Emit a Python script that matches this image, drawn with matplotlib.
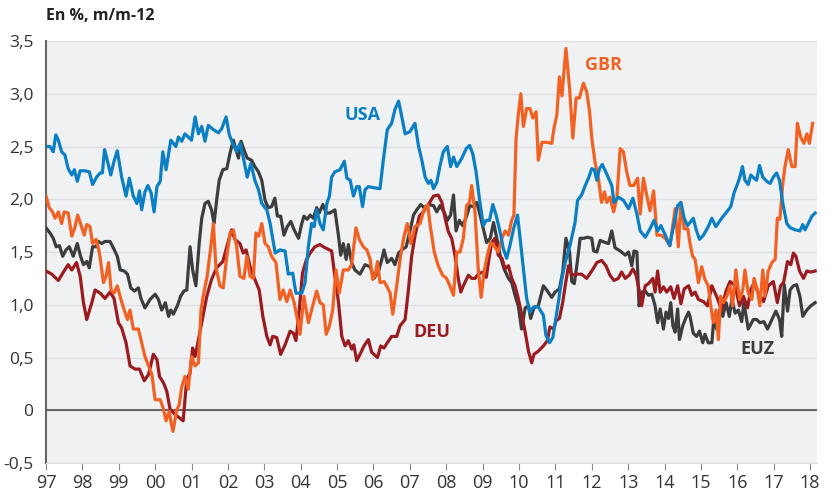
import numpy as np
import matplotlib.pyplot as plt

# years counted from 1997, values in % y/y
usa_t = [0, 0.11, 0.2, 0.27, 0.34, 0.43, 0.52, 0.61, 0.71, 0.78, 0.86, 0.94, 1.07, 1.19, 1.28, 1.39,
         1.49, 1.55, 1.61, 1.67, 1.78, 1.87, 1.96, 2.08, 2.2, 2.29, 2.4, 2.5, 2.57, 2.63, 2.72, 2.8,
         2.89, 2.97, 3.05, 3.14, 3.21, 3.30, 3.43, 3.50, 3.57, 3.64, 3.73, 3.82, 3.91, 4.0, 4.10, 4.19,
         4.28, 4.37, 4.46, 4.60, 4.74, 4.83, 4.95, 5.04, 5.13, 5.24, 5.33, 5.42, 5.53, 5.63, 5.74, 5.84,
         5.93, 6.07, 6.16, 6.30, 6.43, 6.57, 6.66, 6.78, 6.87, 7.03, 7.12, 7.21, 7.30, 7.37, 7.44, 7.53,
         7.62, 7.72, 7.79, 7.85, 7.94, 8.08, 8.20, 8.27, 8.36, 8.45, 8.54, 8.61, 8.70, 8.77, 8.86, 9.00,
         9.18, 9.27, 9.38, 9.50, 9.59, 9.69, 9.78, 9.87, 10.0, 10.14, 10.24, 10.33, 10.42, 10.51, 10.58,
         10.65, 10.74, 10.83, 10.92, 11.03, 11.12, 11.20, 11.29, 11.43, 11.55, 11.64, 11.73, 11.82, 11.91,
         12.02, 12.10, 12.19, 12.28, 12.37, 12.48, 12.57, 12.66, 12.75, 12.85, 12.96, 13.03, 13.12, 13.21,
         13.30, 13.40, 13.53, 13.67, 13.74, 13.84, 13.93, 14.04, 14.18, 14.27, 14.40, 14.54, 14.61, 14.72,
         14.82, 14.91, 15.0, 15.07, 15.14, 15.21, 15.29, 15.41, 15.55, 15.61, 15.73, 15.87, 16.01, 16.13,
         16.24, 16.33, 16.47, 16.60, 16.71, 16.81, 16.90, 17.02, 17.14, 17.25, 17.36, 17.45, 17.54, 17.63,
         17.79, 17.87, 17.96, 18.07, 18.20, 18.30, 18.41, 18.57, 18.71, 18.82, 18.91, 19.0, 19.07, 19.14,
         19.21, 19.30, 19.37, 19.46, 19.53, 19.61, 19.70, 19.81, 19.90, 19.99, 20.08, 20.16, 20.25, 20.36,
         20.45, 20.59, 20.72, 20.80, 20.86, 20.95, 21.05, 21.14]
usa_v = [2.50, 2.50, 2.45, 2.61, 2.56, 2.45, 2.42, 2.29, 2.23, 2.28, 2.17, 2.27, 2.27, 2.26, 2.14, 2.21,
         2.25, 2.25, 2.47, 2.39, 2.23, 2.36, 2.46, 2.21, 2.03, 2.20, 2.03, 1.96, 2.08, 1.90, 2.07, 2.13,
         2.06, 1.88, 2.12, 2.17, 2.45, 2.28, 2.56, 2.53, 2.50, 2.59, 2.55, 2.62, 2.59, 2.56, 2.78, 2.62,
         2.69, 2.55, 2.70, 2.66, 2.63, 2.67, 2.78, 2.61, 2.53, 2.45, 2.53, 2.40, 2.21, 2.34, 2.18, 2.09,
         1.96, 1.90, 1.77, 1.49, 1.52, 1.51, 1.29, 1.30, 1.11, 1.11, 1.21, 1.55, 1.77, 1.74, 1.90, 1.77,
         1.71, 1.96, 2.03, 2.21, 2.26, 2.28, 2.36, 2.20, 2.18, 2.03, 2.12, 2.12, 1.93, 2.09, 2.12, 2.11,
         2.10, 2.37, 2.66, 2.72, 2.85, 2.93, 2.78, 2.62, 2.64, 2.72, 2.50, 2.37, 2.21, 2.15, 2.18,
         2.10, 2.16, 2.32, 2.45, 2.50, 2.31, 2.40, 2.31, 2.39, 2.48, 2.51, 2.43, 2.26, 2.01,
         1.75, 1.80, 1.80, 1.95, 1.85, 1.69, 1.53, 1.44, 1.56, 1.72, 1.85, 1.63, 1.34, 1.06,
         0.93, 0.98, 0.98, 0.90, 0.71, 0.64, 0.69, 0.93, 1.25, 1.40, 1.56, 1.78, 1.99, 2.04,
         2.13, 2.20, 2.29, 2.28, 2.18, 2.29, 2.33, 2.24, 2.13, 1.97, 2.02, 1.99, 1.91, 2.01,
         1.86, 1.70, 1.64, 1.72, 1.80, 1.70, 1.75, 1.66, 1.56, 1.75, 1.94, 1.97, 1.82, 1.75,
         1.82, 1.71, 1.62, 1.66, 1.74, 1.82, 1.74, 1.82, 1.88, 1.93, 2.06, 2.14, 2.21, 2.31,
         2.18, 2.14, 2.23, 2.20, 2.18, 2.32, 2.21, 2.17, 2.15, 2.21, 2.25, 2.18, 1.96, 1.77,
         1.73, 1.71, 1.70, 1.76, 1.71, 1.77, 1.84, 1.87]

gbr_t = [0, 0.09, 0.18, 0.25, 0.34, 0.43, 0.50, 0.61, 0.71, 0.80, 0.87, 0.95, 1.05, 1.12, 1.21, 1.28,
         1.38, 1.47, 1.58, 1.65, 1.72, 1.79, 1.87, 1.96, 2.06, 2.15, 2.24, 2.31, 2.40, 2.54, 2.63, 2.72,
         2.82, 2.91, 3.0, 3.14, 3.23, 3.30, 3.39, 3.44, 3.49, 3.59, 3.66, 3.73, 3.82, 3.91, 4.0, 4.10,
         4.19, 4.26, 4.32, 4.43, 4.53, 4.60, 4.67, 4.78, 4.87, 4.97, 5.06, 5.15, 5.24, 5.33, 5.44, 5.52,
         5.61, 5.70, 5.77, 5.85, 5.93, 6.02, 6.11, 6.20, 6.32, 6.43, 6.52, 6.62, 6.71, 6.82, 6.91, 6.98,
         7.09, 7.21, 7.33, 7.44, 7.53, 7.62, 7.70, 7.79, 7.88, 7.97, 8.06, 8.17, 8.31, 8.40, 8.52, 8.61,
         8.72, 8.82, 8.91, 8.98, 9.04, 9.11, 9.18, 9.29, 9.36, 9.46, 9.53, 9.64, 9.73, 9.84, 9.93, 10.03,
         10.14, 10.28, 10.39, 10.49, 10.56, 10.67, 10.78, 10.90, 11.01, 11.10, 11.2, 11.29, 11.38, 11.47,
         11.56, 11.64, 11.70, 11.79, 11.88, 11.96, 12.04, 12.13, 12.22, 12.31, 12.43, 12.53, 12.62, 12.71,
         12.80, 12.86, 12.92, 12.98, 13.05, 13.12, 13.21, 13.30, 13.38, 13.47, 13.53, 13.63, 13.76, 13.90,
         13.96, 14.04, 14.11, 14.18, 14.29, 14.39, 14.48, 14.57, 14.66, 14.77, 14.86, 14.94, 15.0, 15.09,
         15.18, 15.27, 15.35, 15.41, 15.50, 15.60, 15.69, 15.78, 15.87, 15.96, 16.05, 16.15, 16.26, 16.33,
         16.42, 16.51, 16.60, 16.70, 16.79, 16.90, 17.02, 17.15, 17.29, 17.38, 17.45, 17.54, 17.64, 17.70,
         17.77, 17.84, 17.93, 18.02, 18.11, 18.20, 18.27, 18.34, 18.41, 18.48, 18.54, 18.62, 18.71, 18.80,
         18.87, 18.96, 19.06, 19.15, 19.21, 19.30, 19.40, 19.46, 19.55, 19.62, 19.70, 19.76, 19.85, 19.95,
         20.04, 20.10, 20.17, 20.25, 20.31, 20.40, 20.50, 20.59, 20.65, 20.74, 20.83, 20.91, 20.98, 21.07]
gbr_v = [2.03, 1.92, 1.88, 1.82, 1.88, 1.77, 1.88, 1.87, 1.65, 1.74, 1.85, 1.77, 1.66, 1.76, 1.74, 1.58,
         1.62, 1.49, 1.21, 1.27, 1.40, 1.14, 1.11, 1.18, 1.05, 0.95, 0.86, 0.95, 0.77, 0.77, 0.64, 0.51,
         0.42, 0.34, 0.10, 0.10, 0.01, -0.10, -0.01, -0.12, -0.20, 0.00, 0.05, 0.22, 0.32, 0.20, 0.51, 0.42,
         0.45, 0.95, 1.08, 1.27, 1.55, 1.77, 1.36, 1.18, 1.16, 1.46, 1.68, 1.71, 1.55, 1.27, 1.25, 1.46,
         1.27, 1.25, 1.68, 1.65, 1.77, 1.58, 1.55, 1.46, 1.40, 1.05, 1.14, 1.03, 1.14, 1.02, 0.86, 0.72,
         1.08, 0.83, 0.99, 1.13, 1.02, 1.00, 0.72, 0.80, 0.95, 1.33, 1.11, 1.33, 1.33, 1.38, 1.73, 1.62,
         1.55, 1.52, 1.43, 1.24, 1.27, 1.41, 1.21, 1.22, 1.18, 1.11, 0.91, 1.18, 1.43, 1.65, 1.77, 1.58,
         1.74, 1.77, 1.90, 1.95, 1.75, 1.50, 1.37, 1.28, 1.25, 1.18, 1.09, 1.50, 1.50, 1.63,
         1.94, 1.97, 2.13, 1.88, 1.34, 1.07, 1.31, 1.47, 1.59, 1.56, 1.50, 1.63, 1.70, 1.66,
         1.80, 1.85, 2.58, 2.80, 3.00, 2.69, 2.86, 2.86, 2.77, 2.83, 2.37, 2.54, 2.54, 2.53,
         2.67, 2.80, 3.16, 2.98, 3.43, 3.05, 2.58, 2.96, 2.96, 3.10, 3.02, 2.83, 2.58, 2.35,
         2.20, 1.97, 2.07, 1.97, 2.02, 1.88, 2.01, 2.48, 2.45, 2.26, 2.13, 2.13, 2.20, 1.86,
         2.20, 2.04, 1.89, 2.08, 1.66, 1.66, 1.63, 1.56, 1.91, 1.55, 1.97, 1.72, 1.72, 1.58,
         1.46, 1.43, 1.21, 1.36, 1.24, 1.18, 0.99, 0.83, 0.95, 0.67, 1.08, 1.02, 1.08, 1.18,
         0.99, 1.33, 1.05, 1.14, 1.33, 1.11, 1.05, 1.25, 1.14, 0.99, 1.33, 1.08, 1.32, 1.40,
         1.43, 1.82, 1.81, 2.15, 2.31, 2.47, 2.31, 2.31, 2.72, 2.59, 2.53, 2.62, 2.53, 2.72]

deu_t = [0, 0.16, 0.34, 0.48, 0.61, 0.71, 0.84, 0.94, 1.03, 1.12, 1.26, 1.35, 1.49, 1.62, 1.76, 1.87,
         1.99, 2.08, 2.20, 2.31, 2.45, 2.57, 2.70, 2.82, 2.95, 3.05, 3.12, 3.23, 3.32, 3.41, 3.55, 3.66,
         3.77, 3.87, 3.96, 4.03, 4.10, 4.28, 4.42, 4.55, 4.69, 4.86, 4.97, 5.10, 5.19, 5.33, 5.42, 5.50,
         5.61, 5.74, 5.86, 5.96, 6.07, 6.16, 6.23, 6.34, 6.45, 6.57, 6.71, 6.80, 6.87, 6.96, 7.05, 7.15,
         7.26, 7.39, 7.53, 7.67, 7.85, 7.94, 8.04, 8.13, 8.22, 8.31, 8.40, 8.46, 8.54, 8.63, 8.74, 8.86,
         8.95, 9.11, 9.20, 9.29, 9.38, 9.50, 9.64, 9.73, 9.87, 9.96, 10.05, 10.14, 10.26, 10.37, 10.51,
         10.65, 10.78, 10.88, 10.97, 11.06, 11.15, 11.24, 11.33, 11.40, 11.47, 11.61, 11.70, 11.79, 11.88,
         12.0, 12.10, 12.19, 12.25, 12.34, 12.43, 12.53, 12.62, 12.71, 12.80, 12.89, 12.98, 13.08, 13.17,
         13.26, 13.35, 13.41, 13.53, 13.67, 13.78, 13.85, 13.95, 14.02, 14.11, 14.20, 14.27, 14.36, 14.45,
         14.59, 14.72, 14.86, 15.0, 15.14, 15.27, 15.39, 15.50, 15.61, 15.73, 15.82, 15.92, 16.03, 16.13,
         16.22, 16.31, 16.37, 16.47, 16.56, 16.68, 16.74, 16.81, 16.88, 16.97, 17.06, 17.17, 17.26, 17.36,
         17.45, 17.54, 17.66, 17.75, 17.84, 17.93, 18.07, 18.18, 18.30, 18.43, 18.57, 18.69, 18.80, 18.94,
         19.06, 19.17, 19.28, 19.37, 19.46, 19.58, 19.72, 19.85, 19.99, 20.10, 20.19, 20.27, 20.38, 20.47,
         20.54, 20.61, 20.71, 20.82, 20.91, 21.02, 21.14]
deu_v = [1.32, 1.29, 1.23, 1.31, 1.38, 1.33, 1.40, 1.27, 1.02, 0.86, 1.02, 1.14, 1.11, 1.06, 1.12, 1.06,
         0.83, 0.78, 0.64, 0.42, 0.39, 0.39, 0.28, 0.34, 0.53, 0.48, 0.32, 0.26, 0.18, 0.01, -0.04, -0.07,
         -0.10, 0.30, 0.35, 0.59, 0.51, 0.83, 1.08, 1.24, 1.35, 1.41, 1.55, 1.71, 1.62, 1.58, 1.49, 1.52,
         1.36, 1.24, 1.14, 0.89, 0.70, 0.62, 0.70, 0.69, 0.53, 0.62, 0.75, 0.73, 0.66, 0.95, 1.30, 1.42,
         1.49, 1.55, 1.57, 1.54, 1.51, 1.27, 1.02, 0.70, 0.61, 0.66, 0.58, 0.62, 0.47, 0.53, 0.61, 0.67,
         0.55, 0.50, 0.61, 0.59, 0.64, 0.70, 0.70, 0.80, 0.86, 1.14, 1.46, 1.65, 1.84, 1.88, 1.95,
         2.03, 2.04, 1.97, 1.82, 1.69, 1.63, 1.47, 1.25, 1.12, 1.18, 1.28, 1.25, 1.25, 1.29,
         1.31, 1.26, 1.47, 1.59, 1.63, 1.47, 1.44, 1.34, 1.37, 1.25, 1.18, 1.06, 0.90, 0.74,
         0.56, 0.45, 0.53, 0.56, 0.61, 0.66, 0.79, 0.77, 0.85, 0.87, 1.02, 1.18, 1.37, 1.28,
         1.29, 1.29, 1.25, 1.32, 1.40, 1.42, 1.37, 1.28, 1.23, 1.25, 1.31, 1.25, 1.28, 1.34,
         1.28, 1.12, 0.99, 1.18, 1.20, 1.25, 1.12, 1.32, 1.12, 1.17, 1.12, 1.17, 1.06, 1.18,
         1.01, 1.15, 1.18, 1.09, 1.12, 1.05, 1.03, 0.99, 1.18, 1.08, 0.95, 1.13, 1.22, 1.18,
         0.99, 1.08, 0.97, 1.14, 1.21, 1.11, 1.03, 1.18, 1.22, 1.02, 1.18, 1.21, 1.41, 1.38,
         1.49, 1.46, 1.32, 1.25, 1.32, 1.31, 1.32]

euz_t = [0, 0.11, 0.20, 0.28, 0.37, 0.46, 0.55, 0.64, 0.75, 0.86, 0.95, 1.03, 1.12, 1.19, 1.28, 1.38,
         1.44, 1.53, 1.62, 1.76, 1.85, 1.96, 2.04, 2.15, 2.24, 2.33, 2.43, 2.54, 2.61, 2.72, 2.86, 3.0,
         3.09, 3.18, 3.28, 3.37, 3.43, 3.50, 3.61, 3.70, 3.79, 3.87, 3.91, 3.96, 4.03, 4.12, 4.21, 4.28,
         4.37, 4.46, 4.55, 4.62, 4.69, 4.76, 4.86, 4.97, 5.06, 5.15, 5.22, 5.29, 5.36, 5.44, 5.53, 5.65,
         5.74, 5.84, 5.93, 6.02, 6.11, 6.20, 6.29, 6.36, 6.45, 6.54, 6.63, 6.73, 6.82, 6.94, 7.03, 7.09,
         7.18, 7.26, 7.35, 7.44, 7.51, 7.61, 7.70, 7.81, 7.94, 8.04, 8.10, 8.17, 8.25, 8.31, 8.40, 8.49,
         8.63, 8.77, 8.91, 9.02, 9.14, 9.23, 9.29, 9.38, 9.50, 9.59, 9.69, 9.78, 9.90, 10.01, 10.10, 10.19,
         10.30, 10.39, 10.51, 10.65, 10.74, 10.83, 10.94, 11.03, 11.12, 11.2, 11.27, 11.36, 11.45, 11.54,
         11.65, 11.75, 11.84, 11.93, 12.02, 12.11, 12.21, 12.30, 12.39, 12.48, 12.59, 12.71, 12.80, 12.89,
         12.98, 13.07, 13.17, 13.26, 13.32, 13.41, 13.53, 13.67, 13.78, 13.90, 13.99, 14.11, 14.20, 14.29,
         14.39, 14.45, 14.52, 14.60, 14.68, 14.78, 14.88, 15.0, 15.05, 15.14, 15.23, 15.37, 15.46, 15.55,
         15.64, 15.78, 15.92, 16.01, 16.10, 16.16, 16.24, 16.30, 16.37, 16.47, 16.56, 16.65, 16.74, 16.81,
         16.88, 16.97, 17.04, 17.11, 17.17, 17.23, 17.29, 17.36, 17.41, 17.50, 17.59, 17.66, 17.70, 17.79,
         17.88, 17.96, 18.05, 18.11, 18.20, 18.30, 18.36, 18.43, 18.51, 18.60, 18.69, 18.78, 18.85, 18.94,
         19.03, 19.12, 19.18, 19.30, 19.44, 19.53, 19.62, 19.73, 19.83, 19.95, 20.06, 20.16, 20.22, 20.29,
         20.38, 20.45, 20.54, 20.63, 20.72, 20.80, 20.91, 21.02, 21.14]
euz_v = [1.73, 1.68, 1.63, 1.55, 1.56, 1.46, 1.52, 1.55, 1.46, 1.58, 1.46, 1.38, 1.41, 1.35, 1.55, 1.55,
         1.60, 1.58, 1.60, 1.60, 1.54, 1.46, 1.33, 1.32, 1.29, 1.16, 1.13, 1.16, 1.06, 0.97, 1.05, 1.10,
         1.05, 0.95, 1.02, 0.89, 0.95, 0.91, 0.99, 1.08, 1.13, 1.14, 1.33, 1.55, 1.33, 1.18, 1.58, 1.82,
         1.96, 1.98, 1.90, 1.77, 1.99, 2.18, 2.28, 2.29, 2.44, 2.56, 2.47, 2.39, 2.55, 2.47, 2.39, 2.37,
         2.31, 2.26, 2.18, 1.99, 1.92, 1.93, 2.01, 1.84, 1.84, 1.66, 1.74, 1.79, 1.71, 1.63, 1.77, 1.84,
         1.81, 1.85, 1.82, 1.92, 1.87, 1.95, 1.87, 1.87, 1.90, 1.65, 1.47, 1.58, 1.43, 1.57, 1.40, 1.33,
         1.29, 1.38, 1.36, 1.25, 1.32, 1.43, 1.52, 1.40, 1.44, 1.38, 1.49, 1.52, 1.55, 1.71, 1.85, 1.90,
         1.95, 1.92, 1.95, 1.94, 1.88, 1.94, 1.88, 1.80, 1.85, 2.04, 1.70, 1.80, 1.75, 1.82,
         1.94, 1.93, 1.97, 1.85, 1.72, 1.59, 1.63, 1.78, 1.63, 1.47, 1.34, 1.25, 1.21, 1.09,
         0.99, 0.77, 0.97, 0.99, 0.87, 0.97, 0.99, 1.18, 1.13, 1.07, 1.12, 1.15, 1.31, 1.63,
         1.50, 1.22, 1.20, 1.40, 1.63, 1.63, 1.64, 1.63, 1.51, 1.50, 1.61, 1.59, 1.58, 1.70,
         1.54, 1.51, 1.47, 1.50, 1.37, 1.51, 1.50, 0.99, 1.12, 1.13, 1.09, 1.10, 0.99, 0.83,
         0.96, 0.77, 0.93, 0.87, 1.02, 0.80, 0.74, 0.96, 0.67, 0.80, 0.88, 0.93, 0.89, 0.73,
         0.70, 0.75, 0.64, 0.72, 0.64, 0.64, 0.89, 0.77, 0.95, 0.89, 1.02, 0.89, 1.05, 0.92,
         0.95, 0.84, 1.02, 0.77, 0.86, 0.86, 0.83, 0.84, 0.77, 0.86, 0.94, 0.86, 0.70, 1.19,
         0.94, 1.14, 1.18, 1.19, 1.08, 0.89, 0.95, 0.99, 1.02]

year_labels = ['97', '98', '99', '00', '01', '02', '03', '04', '05', '06', '07', '08', '09', '10',
               '11', '12', '13', '14', '15', '16', '17', '18']

plt.rcParams['font.family'] = ['Open Sans', 'DejaVu Sans']

fig = plt.figure(figsize=(8.33, 4.91), dpi=100)
ax = fig.add_axes([0.0552, 0.057, 0.9256, 0.8595])
ax.set_facecolor('#f0f1f3')

series = [
    (euz_t, euz_v, '#3d3d3d'),
    (deu_t, deu_v, '#9a1b20'),
    (gbr_t, gbr_v, '#f26122'),
    (usa_t, usa_v, '#0b7fc4'),
]
for t, v, c in series:
    ax.plot(np.array(t) + 1997, v, color=c, lw=2.3, solid_joinstyle='round', zorder=3)

ax.set_xlim(1997, 2018.19)
ax.set_ylim(-0.5, 3.5)
yt = [-0.5, 0, 0.5, 1.0, 1.5, 2.0, 2.5, 3.0, 3.5]
ax.set_yticks(yt)
ax.set_yticklabels([('%.1f' % y).replace('.', ',') if y != 0 else '0' for y in yt])
ax.set_xticks(np.arange(1997, 2019))
ax.set_xticklabels(year_labels)
ax.grid(axis='y', color='#dcdde0', lw=1)
ax.axhline(0, color='#666666', lw=1.5, zorder=2)
for s in ['top', 'right']:
    ax.spines[s].set_visible(False)
ax.spines['left'].set_color('#666666')
ax.spines['left'].set_linewidth(1.5)
ax.spines['bottom'].set_color('#dcdde0')
ax.tick_params(axis='y', length=0, pad=9, labelsize=12.5, labelcolor='#333333')
ax.tick_params(axis='x', length=5, color='#888888', pad=3, labelsize=13, labelcolor='#333333')

ax.text(2005.69, 2.80, 'USA', color='#0b7fc4', fontsize=13, fontweight='bold', ha='center', va='center')
ax.text(2012.31, 3.27, 'GBR', color='#f26122', fontsize=13, fontweight='bold', ha='center', va='center')
ax.text(2007.61, 0.74, 'DEU', color='#9a1b20', fontsize=13, fontweight='bold', ha='center', va='center')
ax.text(2016.54, 0.58, 'EUZ', color='#3d3d3d', fontsize=13, fontweight='bold', ha='center', va='center')

fig.text(0.055, 0.968, 'En %, m/m-12', fontsize=11.5, fontweight='bold', color='#222222', va='center')

fig.savefig('out.png', dpi=100)
